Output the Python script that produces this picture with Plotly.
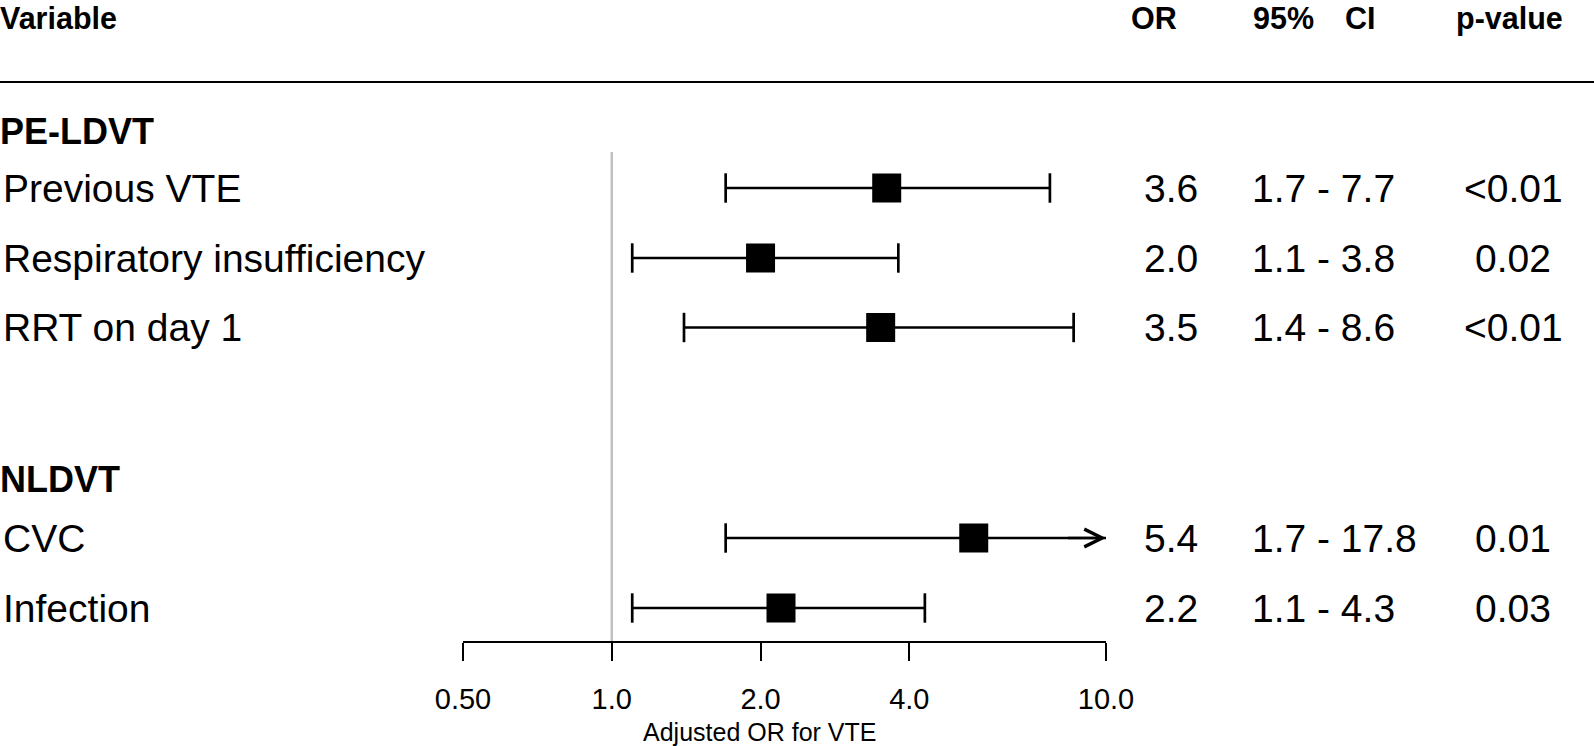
import math
import plotly.graph_objects as go

# ---------------- data ----------------
variables = ["Previous VTE", "Respiratory insufficiency", "RRT on day 1", "CVC", "Infection"]
groups = ["PE-LDVT", "PE-LDVT", "PE-LDVT", "NLDVT", "NLDVT"]
odds_ratio = [3.6, 2.0, 3.5, 5.4, 2.2]
ci_low = [1.7, 1.1, 1.4, 1.7, 1.1]
ci_high = [7.7, 3.8, 8.6, 17.8, 4.3]
p_values = ["<0.01", "0.02", "<0.01", "0.01", "0.03"]
tick_vals = [0.5, 1.0, 2.0, 4.0, 10.0]
tick_text = ["0.50", "1.0", "2.0", "4.0", "10.0"]
axis_min, axis_max = 0.5, 10.0
ref_value = 1.0
x_title = "Adjusted OR for VTE"
headers = {"var": "Variable", "or": "OR", "ci1": "95%", "ci2": "CI", "p": "p-value"}

# ---------------- layout (positions in figure pixels) ----------------
W, H = 1594, 746
PLOT_BOTTOM = 641              # y pixel of the x axis line
AX_LEFT, AX_RIGHT = 463, 1106  # pixel extent of the log axis
row_y = [188, 258, 327.5, 538, 608]
group_y = {"PE-LDVT": 131, "NLDVT": 479}
header_y = 18
rule_y = 82
ref_line_top = 152
TEXT_DY = 0
FONT = "Liberation Sans, Arial, sans-serif"
x_label = 1
x_group = -2
x_or = 1171
x_ci = 1250
x_p = 1513
x_hdr_or = 1154
x_hdr_ci1 = 1251
x_hdr_ci2 = 1343
x_hdr_p = 1509
x_title_c, y_title = 759, 732
ROW_FS, HDR_FS, GRP_FS, TICK_FS, TITLE_FS = 39, 30.5, 36, 29, 25

def px(x):
    return x / W

def py_paper(y):
    return 1 - y / PLOT_BOTTOM

fig = go.Figure()

# reference line at OR = 1
fig.add_trace(go.Scatter(x=[ref_value, ref_value], y=[ref_line_top, PLOT_BOTTOM], mode="lines",
                         line=dict(color="#c0c0c0", width=2.5), hoverinfo="skip", showlegend=False))

# CI lines
lx, ly = [], []
for lo, hi, y in zip(ci_low, ci_high, row_y):
    lx += [lo, min(hi, axis_max), None]
    ly += [y, y, None]
fig.add_trace(go.Scatter(x=lx, y=ly, mode="lines", line=dict(color="black", width=2.7),
                         hoverinfo="skip", showlegend=False))

# caps
cap_x = list(ci_low) + [hi for hi in ci_high if hi <= axis_max]
cap_y = list(row_y) + [y for hi, y in zip(ci_high, row_y) if hi <= axis_max]
fig.add_trace(go.Scatter(x=cap_x, y=cap_y, mode="markers",
                         marker=dict(symbol="line-ns", size=21, line=dict(color="black", width=2.7)),
                         hoverinfo="skip", showlegend=False))

# point estimates
fig.add_trace(go.Scatter(x=odds_ratio, y=row_y, mode="markers",
                         marker=dict(symbol="square", size=29, color="black", line=dict(width=0)),
                         showlegend=False))

annotations = []
# arrows for truncated CIs
for hi, y in zip(ci_high, row_y):
    if hi > axis_max:
        annotations.append(dict(x=math.log10(axis_max), y=y, xref="x", yref="y",
                                ax=math.log10(axis_max) - 0.08, ay=y, axref="x", ayref="y",
                                text="", showarrow=True, arrowhead=5, arrowsize=1.3,
                                arrowwidth=2.7, arrowcolor="black", standoff=0, startstandoff=0))

def txt(x, y, s, size, bold=False, anchor="left", paper_y=False):
    annotations.append(dict(x=px(x), y=py_paper(y) if paper_y else y, xref="paper",
                            yref="paper" if paper_y else "y",
                            text=f"<b>{s}</b>" if bold else s,
                            showarrow=False, xanchor=anchor, yanchor="middle",
                            font=dict(family=FONT, size=size, color="black")))

# headers
txt(x_group, header_y, headers["var"], HDR_FS, True)
txt(x_hdr_or, header_y, headers["or"], HDR_FS, True, "center")
txt(x_hdr_ci1, header_y, headers["ci1"], HDR_FS, True)
txt(x_hdr_ci2, header_y, headers["ci2"], HDR_FS, True)
txt(x_hdr_p, header_y, headers["p"], HDR_FS, True, "center")

# group labels
for g, gy in group_y.items():
    txt(x_group, gy + TEXT_DY, g, GRP_FS, True)

# rows
for v, o, lo, hi, p, y in zip(variables, odds_ratio, ci_low, ci_high, p_values, row_y):
    ty = y + TEXT_DY
    txt(x_label, ty, v, ROW_FS)
    txt(x_or, ty, f"{o:.1f}", ROW_FS, anchor="center")
    txt(x_ci, ty, f"{lo:.1f} - {hi:.1f}", ROW_FS)
    txt(x_p, ty, p, ROW_FS, anchor="center")

# axis title
txt(x_title_c, y_title, x_title, TITLE_FS, anchor="center", paper_y=True)

fig.update_layout(
    width=W, height=H,
    margin=dict(l=0, r=0, t=0, b=H - PLOT_BOTTOM, autoexpand=False),
    paper_bgcolor="white", plot_bgcolor="white",
    showlegend=False,
    annotations=annotations,
    shapes=[dict(type="line", xref="paper", yref="y", x0=0, x1=1, y0=rule_y, y1=rule_y,
                 line=dict(color="black", width=2))],
    xaxis=dict(type="log", range=[math.log10(axis_min), math.log10(axis_max)],
               domain=[AX_LEFT / W, AX_RIGHT / W],
               tickvals=tick_vals, ticktext=tick_text, ticks="outside", ticklen=18, tickwidth=2,
               tickcolor="black", showline=True, linewidth=2, linecolor="black",
               showgrid=False, zeroline=False, ticklabelstandoff=13,
               tickfont=dict(family=FONT, size=TICK_FS, color="black")),
    yaxis=dict(range=[PLOT_BOTTOM, 0], domain=[0, 1], visible=False, showgrid=False, zeroline=False),
)

fig.write_html("out.html", config={"displayModeBar": False},
               post_script="document.body.style.margin='0';")
